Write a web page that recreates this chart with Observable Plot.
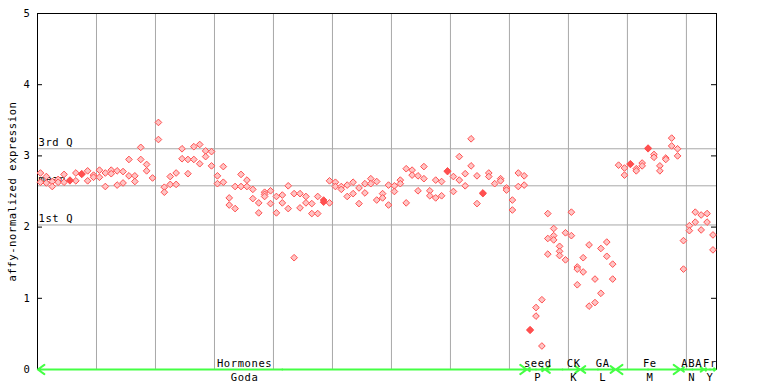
<!DOCTYPE html>
<html><head><meta charset="utf-8">
<script src="https://cdn.jsdelivr.net/npm/d3@7"></script>
<script src="https://cdn.jsdelivr.net/npm/@observablehq/plot@0.6"></script>
<style>html,body{margin:0;padding:0;background:#fff} #chart svg{display:block}</style>
</head><body><div id="chart"></div>
<script>
// expression values per sample (index 0..114)
const values = [
 [2.76,2.63],[2.71,2.62],[2.64,2.57],[2.67,2.63],[2.74,2.63],[2.65,2.66],[2.76,2.65],[2.74,2.75],
 [2.79,2.65],[2.73,2.70],[2.80,2.70],[2.76,2.57],[2.80,2.75],[2.79,2.59],[2.78,2.62],[2.95,2.72],
 [2.72,2.64],[3.12,2.95],[2.88,2.79],[2.69],[3.47,3.23],[2.56,2.49],[2.71,2.60],[2.76,2.60],
 [3.10,2.96],[2.95,2.75],[3.13,2.95],[3.16,2.89],[3.07,2.99],[3.06,2.86],[2.72,2.61],[2.85,2.63],
 [2.41,2.31],[2.57,2.26],[2.74,2.57],[2.66,2.57],[2.53,2.40],[2.34,2.20],[2.49,2.46,2.43],[2.51,2.33],
 [2.43,2.20],[2.45,2.34],[2.58,2.26],[2.47,1.57],[2.47,2.27],[2.43,2.34],[2.33,2.19],[2.43,2.19],
 [2.38,2.35],[2.65,2.34],[2.63,2.57],[2.57,2.53],[2.59,2.43],[2.63,2.47],[2.55,2.33],[2.61,2.48],
 [2.68,2.61],[2.64,2.38],[2.47,2.41],[2.59,2.31],[2.58,2.50],[2.66,2.61],[2.82,2.34],[2.80,2.73],
 [2.72,2.51],[2.85,2.68],[2.51,2.44],[2.66,2.41],[2.64,2.44],[2.78,2.79],[2.71,2.50],[2.99,2.66],
 [2.75,2.58],[3.24,2.86],[2.72,2.33],[2.47,2.48],[2.76,2.71],[2.61],[2.68,2.65],[2.55,2.52],
 [2.38,2.24],[2.76,2.57],[2.72,2.59],
 [0.55,0.56],[0.87,0.75],[0.98,0.33],
 [2.19,1.84,1.62],[1.98,1.88,1.82],[1.73,1.66,1.60],[1.92,1.54],[2.21,1.88],[1.44,1.41,1.19],
 [1.57,1.37],[1.75,0.89],[1.27,0.94],[1.70,1.07],[1.79,1.59],[1.48,1.27],
 [2.87],[2.83,2.73],[2.88,2.89],[2.82,2.79],[2.90,2.86],[3.11,3.10],[3.02,2.98],[2.86,2.79],
 [2.97,2.95],[3.25,3.14],[3.10,3.00],
 [1.81,1.41],[2.02,1.95],[2.21,2.07],[2.17,1.96],
 [2.19,2.07],[1.89,1.68]
];
const solidSamples = [5,7,48,69,75,83,100,103];

const groupNames = ["Hormones","seed","CK","GA","Fe","ABA","Fr"];
const groupCodes = ["Goda","P","K","L","M","N","Y"];
const groupStart = [0,83,86,92,98,109,113];
const groupEnd   = [82,85,91,97,108,112,114];
const groupLabelAt = [34.6,84.3,90.4,95.3,103.3,110.4,113.5];

const refNames = ["3rd Q","mean","1st Q"];
const refValues = [3.10,2.58,2.03];
const yTicks = [0,1,2,3,4,5];

const points = values.flatMap((vs,i)=>vs.map(v=>({i, v, solid: solidSamples.includes(i)})));
const groups = groupNames.map((name,i)=>({
  name, code: groupCodes[i],
  start: groupStart[i]-0.45, end: groupEnd[i]+0.45,
  mid: (groupStart[i]+groupEnd[i])/2, at: groupLabelAt[i]
}));
const nSamples = values.length;
const gridX = d3.range(9.5, nSamples, 10);

const W=768, H=384, mL=37, mR=52, mT=13, mB=15;
const plotW = W-mL-mR;
const red = "#ff5050", green = "#44ff44", grid = "#a8a8a8";

const chart = Plot.plot({
  width: W, height: H,
  marginLeft: mL, marginRight: mR, marginTop: mT, marginBottom: mB,
  style: {fontFamily: "'DejaVu Sans Mono', monospace", fontSize: "10.5px", letterSpacing: "0.6px", color: "black", background: "white", overflow: "visible"},
  x: {domain: [-0.5, nSamples - 0.4], axis: null},
  y: {domain: [0, 5]},
  marks: [
    Plot.ruleX(gridX, {stroke: grid}),
    Plot.ruleY(refValues, {stroke: grid}),
    Plot.frame({stroke: "black"}),
    Plot.axisY({ticks: yTicks, tickSize: 0, tickPadding: 7, tickFormat: d=>String(d),
      label: "affy-normalized expression", labelAnchor: "center", labelArrow: "none", labelOffset: 29}),
    Plot.ruleY(yTicks, {stroke: "black", insetRight: plotW - 5}),
    Plot.ruleY(yTicks, {stroke: "black", insetLeft: plotW - 5}),
    Plot.text(refValues, {y: d=>d, text: (d,i)=>refNames[i], frameAnchor: "left", textAnchor: "start", dx: 1, dy: -6}),
    Plot.dot(points.filter(d=>!d.solid), {x: "i", y: "v", symbol: "diamond2", r: 3, stroke: red, strokeWidth: 1, fill: "#ffc4c4"}),
    Plot.dot(points.filter(d=>d.solid), {x: "i", y: "v", symbol: "diamond2", r: 3, stroke: red, strokeWidth: 1, fill: red}),
    Plot.arrow(groups, {x1: "mid", x2: "end", y1: 0, y2: 0, stroke: green, strokeWidth: 2, headLength: 6, headAngle: 70}),
    Plot.arrow(groups, {x1: "mid", x2: "start", y1: 0, y2: 0, stroke: green, strokeWidth: 2, headLength: 6, headAngle: 70}),
    Plot.text(groups, {x: "at", y: 0, text: "name", dy: -6}),
    Plot.text(groups, {x: "at", y: 0, text: "code", dy: 8})
  ]
});
document.getElementById("chart").appendChild(chart);
</script>
</body></html>
